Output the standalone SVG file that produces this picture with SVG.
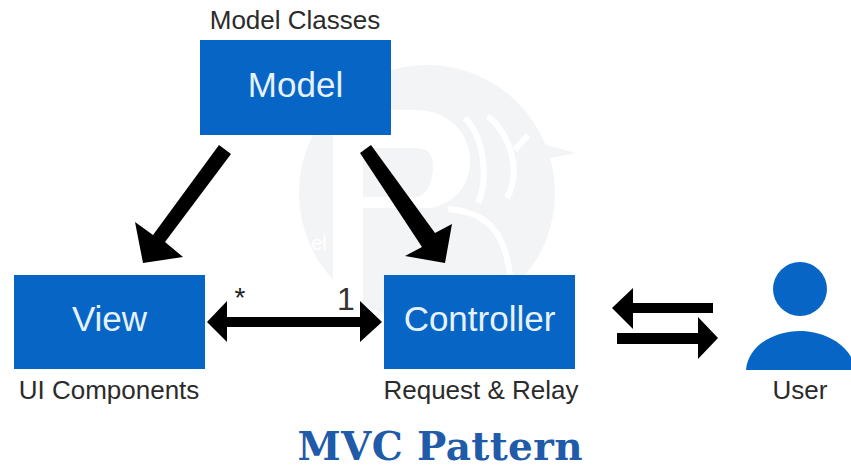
<svg xmlns="http://www.w3.org/2000/svg" width="851" height="469" viewBox="0 0 851 469">
<style>
.box{fill:#0765c6}
.t{font-family:"Liberation Sans",Arial,sans-serif;text-anchor:middle}
.big{font-size:35px;fill:#e6f2fb}
.lab{font-size:26px;fill:#2b2b2b}
.ar{fill:#000}
.lobe{fill:none;stroke:#fff;stroke-width:6}
</style>
<defs><clipPath id="wm"><circle cx="427" cy="193" r="128"/></clipPath></defs>
<rect width="851" height="469" fill="#fff"/>
<g id="watermark">
<path d="M528 140L576 153L540 160Z" fill="#f3f4f6"/>
<circle cx="427" cy="193" r="128" fill="#f3f4f6"/>
<g clip-path="url(#wm)">
<path fill-rule="evenodd" d="M333 110H415C450 110 472 135 470 165C468 190 450 205 430 208H363V330H333ZM363 148V197H415C428 197 433 180 433 165C433 155 428 148 415 148Z" fill="#fff"/>
<path class="lobe" d="M465 118C482 135 490 175 478 203"/>
<path class="lobe" d="M488 116C510 135 522 170 507 198"/>
<path class="lobe" d="M528 135L515 150"/>
<path class="lobe" d="M448 209C490 212 505 235 510 275"/>
</g>
<text x="319" y="250" font-family="Liberation Sans,sans-serif" font-size="20" fill="#fff" text-anchor="middle">el</text>
</g>
<g id="connectors">
<path class="ar" d="M219 145L231 154L165 242L183 257L143 263L135 222L153 235Z"/>
<path class="ar" d="M371 145L360 153L422 247L405 256L445 263L452 224L435 233Z"/>
<path class="ar" d="M207 322L227 301V317H360V301L382 322L360 342V327H227V342Z"/>
<path class="ar" d="M612 308L633 288V303H713V313H633V329Z"/>
<path class="ar" d="M718 338L698 317V333H617V344H698V359Z"/>
</g>
<g id="model"><rect class="box" x="200" y="40" width="191" height="95"/><text class="t big" x="295.500" y="97">Model</text><text class="t lab" x="295" y="29">Model Classes</text></g>
<g id="view"><rect class="box" x="14" y="275" width="191" height="94"/><text class="t big" x="109.500" y="331">View</text><text class="t lab" x="109" y="399">UI Components</text></g>
<g id="controller"><rect class="box" x="384" y="275" width="191" height="94"/><text class="t big" x="479.500" y="331">Controller</text><text class="t lab" x="481" y="399">Request &amp; Relay</text></g>
<g id="user"><circle cx="800" cy="289" r="27" fill="#0765c6"/><path d="M746 370C748 345 775 331 800 331C825 331 851 345 856 370Z" fill="#0765c6"/><text class="t lab" x="800" y="399">User</text></g>
<text class="t" x="240" y="307" font-size="28" fill="#222">*</text>
<text class="t" x="346" y="310" font-size="32" fill="#333">1</text>
<text id="title" x="440" y="460" text-anchor="middle" textLength="285" font-family="DejaVu Serif,serif" font-weight="bold" font-size="39" fill="#1f5ba8">MVC Pattern</text>
</svg>
